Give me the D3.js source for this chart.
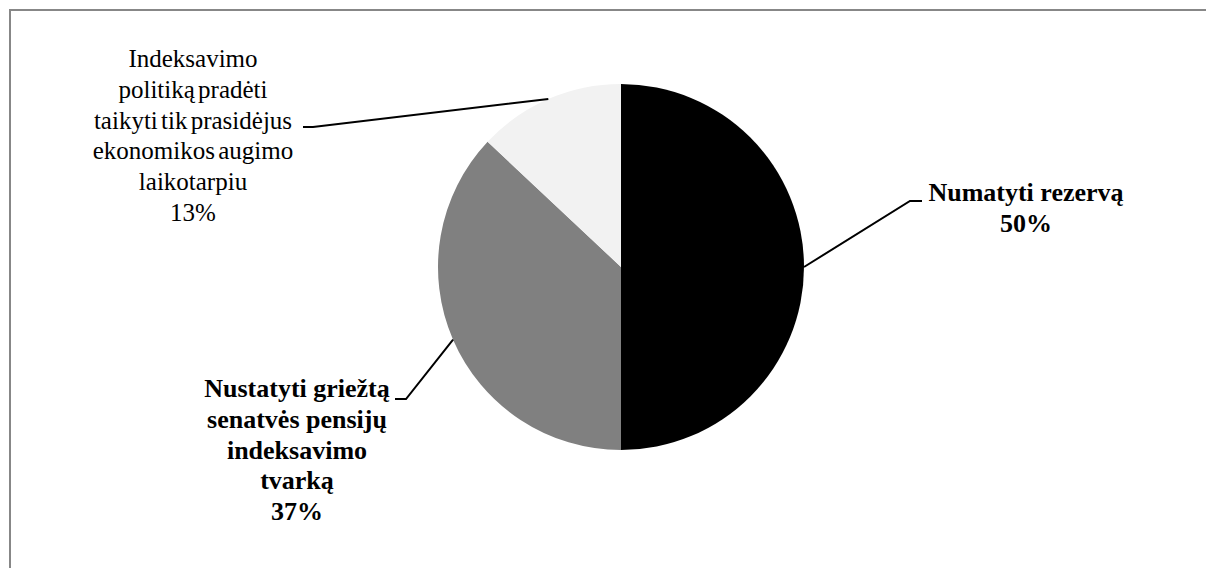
<!DOCTYPE html>
<html>
<head>
<meta charset="utf-8">
<script src="https://cdn.jsdelivr.net/npm/d3@7"></script>
<style>
  body { margin: 0; background: #fff; }
  svg { display: block; }
  text { font-family: "Liberation Serif", "Times New Roman", serif; font-size: 25px; fill: #000; }
  text.bold { font-size: 26px; font-weight: bold; }
  text.regular { word-spacing: -3px; }
</style>
</head>
<body>
<div id="chart"></div>
<script>
// data
const categories = [
  "Numatyti rezervą",
  "Nustatyti griežtą senatvės pensijų indeksavimo tvarką",
  "Indeksavimo politiką pradėti taikyti tik prasidėjus ekonomikos augimo laikotarpiu"
]
const labelLines = [
  ["Numatyti rezervą"],
  ["Nustatyti griežtą", "senatvės pensijų", "indeksavimo", "tvarką"],
  ["Indeksavimo", "politiką pradėti", "taikyti tik prasidėjus", "ekonomikos augimo", "laikotarpiu"]
]
const values = [50, 37, 13]
const colors = ["#000000", "#808080", "#f2f2f2"]

const width = 1206
const height = 568
const cx = 621, cy = 267, radius = 183

// label layout: elbow point, end of horizontal tick, text centre, first baseline, weight
const labelLayout = [
  { elbow: [910, 201], end: [922, 201], tx: 1026, ty: 201, bold: true },
  { elbow: [406, 399], end: [395, 399], tx: 297, ty: 397, bold: true },
  { elbow: [313, 127], end: [303, 127], tx: 193, ty: 67, bold: false }
]
const lineHeight = 30.8

const svg = d3.select("#chart").append("svg")
  .attr("width", width)
  .attr("height", height)

// chart frame (right / bottom edges fall outside the picture)
svg.append("rect")
  .attr("x", 10).attr("y", 10)
  .attr("width", 1400).attr("height", 800)
  .attr("fill", "none")
  .attr("stroke", "#878787")
  .attr("stroke-width", 2)

const pie = d3.pie().sort(null).value(d => d)
const arcs = pie(values)
const arc = d3.arc().innerRadius(0).outerRadius(radius)

const g = svg.append("g").attr("transform", `translate(${cx},${cy})`)

g.selectAll("path.slice")
  .data(arcs)
  .enter()
  .append("path")
  .attr("class", "slice")
  .attr("d", arc)
  .attr("fill", (d, i) => colors[i])

// leader lines: from arc edge at mid angle to the label elbow
svg.selectAll("polyline.leader")
  .data(arcs)
  .enter()
  .append("polyline")
  .attr("class", "leader")
  .attr("fill", "none")
  .attr("stroke", "#000")
  .attr("stroke-width", 2)
  .attr("points", (d, i) => {
    const a = (d.startAngle + d.endAngle) / 2
    const sx = cx + radius * Math.sin(a)
    const sy = cy - radius * Math.cos(a)
    const L = labelLayout[i]
    return [[sx, sy], L.elbow, L.end].map(p => p.join(",")).join(" ")
  })

// labels
arcs.forEach((d, i) => {
  const L = labelLayout[i]
  const lines = labelLines[i].concat([Math.round(values[i]) + "%"])
  const t = svg.append("text")
    .attr("class", L.bold ? "bold" : "regular")
    .attr("text-anchor", "middle")
  t.selectAll("tspan")
    .data(lines)
    .enter()
    .append("tspan")
    .attr("x", L.tx)
    .attr("y", (s, j) => L.ty + j * lineHeight)
    .text(s => s)
})
</script>
</body>
</html>
